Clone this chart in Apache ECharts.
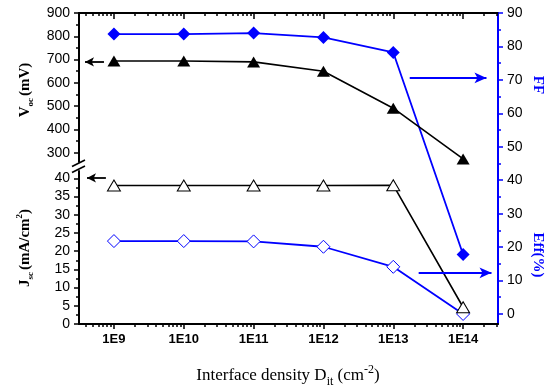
<!DOCTYPE html>
<html><head><meta charset="utf-8">
<script src="https://cdn.jsdelivr.net/npm/echarts@6/dist/echarts.min.js"></script>
<style>html,body{margin:0;padding:0;background:#fff}#chart{width:547px;height:390px}</style>
</head><body><div id="chart"></div>
<script>
// Interface trap density sweep (cm^-2)
const densities = [1e9, 1e10, 1e11, 1e12, 1e13, 1e14];
const xTickLabels = ['1E9', '1E10', '1E11', '1E12', '1E13', '1E14'];
// Cell parameters at each density
const vocMV = [694, 694, 690, 650, 491, 273];
const jscMA = [38.0, 38.0, 38.0, 38.0, 38.1, 4.6];
const ffPct = [83.7, 83.7, 84.0, 82.7, 78.2, 17.8];
const effPct = [21.8, 21.8, 21.7, 20.1, 14.1, 0.0];
// Axis tick values
const vocTicks = [300, 400, 500, 600, 700, 800, 900];
const vocMinor = [350, 450, 550, 650, 750, 850];
const jscTicks = [0, 5, 10, 15, 20, 25, 30, 35, 40];
const jscMinor = [2.5, 7.5, 12.5, 17.5, 22.5, 27.5, 32.5, 37.5];
const rightTicks = [0, 10, 20, 30, 40, 50, 60, 70, 80, 90];
const rightMinor = [5, 15, 25, 35, 45, 55, 65, 75, 85];

const X_MIN = 3.16e8, X_MAX = 3.16e14;
const xMinor = [];
for (let e = 8; e <= 14; e++) {
  for (let m = 2; m <= 9; m++) {
    const v = m * Math.pow(10, e);
    if (v > X_MIN && v < X_MAX) xMinor.push(v);
  }
}

const BLUE = '#0000ff';
const SANS = 'Liberation Sans, Arial, sans-serif';
const SERIF = 'Liberation Serif, Times New Roman, serif';

const chart = echarts.init(document.getElementById('chart'), null, {renderer: 'canvas'});

function hiddenX(grid) {
  return {type: 'log', logBase: 10, gridIndex: grid, min: X_MIN, max: X_MAX, show: false};
}
function tickX(position, values, len, inside, line, labels) {
  return {
    type: 'log', logBase: 10, gridIndex: 2, position: position, min: X_MIN, max: X_MAX,
    splitLine: {show: false},
    axisLine: {show: line, onZero: false, lineStyle: {color: '#000', width: 2}},
    axisTick: {show: true, customValues: values, length: len, inside: inside, lineStyle: {color: '#000', width: 1.5}},
    axisLabel: labels ? {
      show: true, customValues: values, margin: 9,
      fontFamily: SANS, fontWeight: 'bold', fontSize: 13, color: '#000',
      formatter: v => xTickLabels[Math.round(Math.log10(v)) - 9]
    } : {show: false}
  };
}
function valY(grid, pos, min, max, values, len, line, labels, color) {
  return {
    type: 'value', gridIndex: grid, position: pos, min: min, max: max,
    splitLine: {show: false},
    axisLine: {show: line, onZero: false, lineStyle: {color: color, width: 2}},
    axisTick: {show: true, customValues: values, length: len, inside: false, lineStyle: {color: color, width: 1.5}},
    axisLabel: labels ? {show: true, customValues: values, margin: 9, fontFamily: SANS, fontSize: 14, color: '#000'} : {show: false}
  };
}
function pairs(vals) { return densities.map((d, i) => [d, vals[i]]); }
function arrow(color, size, from, to) {
  return {
    silent: true, symbol: ['none', 'arrow'], symbolSize: size, animation: false,
    label: {show: false}, emphasis: {disabled: true},
    lineStyle: {color: color, width: 1.8, type: 'solid'},
    data: [[{coord: from}, {coord: to}]]
  };
}

const option = {
  animation: false,
  backgroundColor: '#fff',
  grid: [
    {left: 79, right: 49, top: 13, height: 149},
    {left: 79, right: 49, top: 171, height: 153},
    {left: 79, right: 49, top: 13, height: 311}
  ],
  xAxis: [
    hiddenX(0),
    hiddenX(1),
    tickX('bottom', densities, 5, false, true, true),
    tickX('bottom', xMinor, 3, false, false, false),
    tickX('top', densities, 6, true, true, false),
    tickX('top', xMinor, 3, true, false, false)
  ],
  yAxis: [
    valY(0, 'left', 260, 900, vocTicks, 5, true, true, '#000'),
    valY(0, 'left', 260, 900, vocMinor, 3, false, false, '#000'),
    valY(1, 'left', 0, 42, jscTicks, 5, true, true, '#000'),
    valY(1, 'left', 0, 42, jscMinor, 3, false, false, '#000'),
    valY(2, 'right', -3, 90, rightTicks, 5, true, true, BLUE),
    valY(2, 'right', -3, 90, rightMinor, 3, false, false, BLUE)
  ],
  series: [
    {
      name: 'Voc', type: 'line', xAxisIndex: 0, yAxisIndex: 0, data: pairs(vocMV),
      symbol: 'triangle', symbolSize: [13, 11], z: 3,
      itemStyle: {color: '#000'}, lineStyle: {color: '#000', width: 1.6},
      markLine: arrow('#000', [7, 9], [7.2e8, 690], [3.85e8, 690])
    },
    {
      name: 'Jsc', type: 'line', xAxisIndex: 1, yAxisIndex: 2, data: pairs(jscMA),
      symbol: 'triangle', symbolSize: [13, 11], showAllSymbol: true, z: 3,
      itemStyle: {color: '#fff', borderColor: '#000', borderWidth: 1},
      lineStyle: {color: '#000', width: 1.6},
      markLine: arrow('#000', [7, 9], [7.67e8, 40.1], [4.11e8, 40.1])
    },
    {
      name: 'FF', type: 'line', xAxisIndex: 2, yAxisIndex: 4, data: pairs(ffPct),
      symbol: 'diamond', symbolSize: 13, z: 2,
      itemStyle: {color: BLUE}, lineStyle: {color: BLUE, width: 1.8},
      markLine: arrow(BLUE, [8, 12], [1.72e13, 70.6], [2.16e14, 70.6])
    },
    {
      name: 'Eff', type: 'line', xAxisIndex: 2, yAxisIndex: 4, data: pairs(effPct),
      symbol: 'diamond', symbolSize: 13, z: 2,
      itemStyle: {color: '#fff', borderColor: BLUE, borderWidth: 1},
      lineStyle: {color: BLUE, width: 1.8},
      markLine: arrow(BLUE, [8, 12], [2.31e13, 12.3], [2.55e14, 12.3])
    }
  ],
  graphic: [
    // axis break marks
    {type: 'line', shape: {x1: 72, y1: 166.5, x2: 85, y2: 160}, style: {stroke: '#000', lineWidth: 1.6}},
    {type: 'line', shape: {x1: 72, y1: 172.5, x2: 85, y2: 166}, style: {stroke: '#000', lineWidth: 1.6}},
    {
      type: 'text', x: 25, y: 90, rotation: Math.PI / 2,
      style: {
        text: '{b|V}{s|oc}{b|(mV)}', align: 'center', verticalAlign: 'middle', fill: '#000',
        rich: {
          b: {fontFamily: SERIF, fontWeight: 'bold', fontSize: 15, lineHeight: 20, fill: '#000'},
          s: {fontFamily: SERIF, fontWeight: 'bold', fontSize: 9, lineHeight: 20, verticalAlign: 'bottom', padding: [0, 2, 0, 0], fill: '#000'}
        }
      }
    },
    {
      type: 'text', x: 25, y: 248, rotation: Math.PI / 2,
      style: {
        text: '{b|J}{s|sc}{b|(mA/cm}{p|2}{b|)}', align: 'center', verticalAlign: 'middle', fill: '#000',
        rich: {
          b: {fontFamily: SERIF, fontWeight: 'bold', fontSize: 15, lineHeight: 20, fill: '#000'},
          s: {fontFamily: SERIF, fontWeight: 'bold', fontSize: 9, lineHeight: 20, verticalAlign: 'bottom', padding: [0, 2, 0, 0], fill: '#000'},
          p: {fontFamily: SERIF, fontWeight: 'bold', fontSize: 9, lineHeight: 20, verticalAlign: 'top', fill: '#000'}
        }
      }
    },
    {
      type: 'text', x: 538, y: 85, rotation: -Math.PI / 2,
      style: {text: 'FF', align: 'center', verticalAlign: 'middle', fill: BLUE,
        font: 'bold 15px ' + SERIF}
    },
    {
      type: 'text', x: 538, y: 255, rotation: -Math.PI / 2,
      style: {text: 'Eff(%)', align: 'center', verticalAlign: 'middle', fill: BLUE,
        font: 'bold 15px ' + SERIF}
    },
    {
      type: 'text', x: 288, y: 376,
      style: {
        text: '{n|Interface density D}{s|it}{n| (cm}{p|-2}{n|)}', align: 'center', verticalAlign: 'middle', fill: '#000',
        rich: {
          n: {fontFamily: SERIF, fontSize: 17, lineHeight: 24, fill: '#000'},
          s: {fontFamily: SERIF, fontSize: 12, lineHeight: 24, verticalAlign: 'bottom', fill: '#000'},
          p: {fontFamily: SERIF, fontSize: 12, lineHeight: 24, verticalAlign: 'top', fill: '#000'}
        }
      }
    }
  ]
};
chart.setOption(option);
</script>
</body></html>
